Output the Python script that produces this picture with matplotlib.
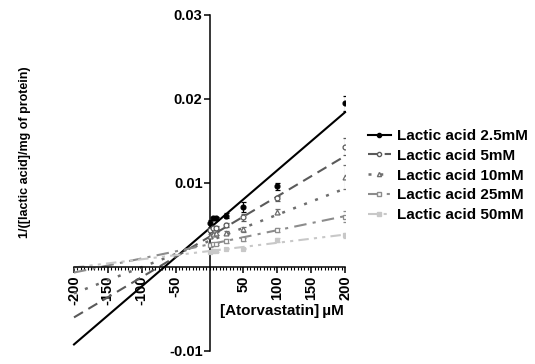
import matplotlib
matplotlib.use('Agg')
import matplotlib.pyplot as plt
import numpy as np
from matplotlib.ticker import MultipleLocator, FixedLocator
from matplotlib.lines import Line2D

plt.rcParams['font.family'] = ['Liberation Sans', 'DejaVu Sans']
plt.rcParams['font.weight'] = 'bold'

# Atorvastatin concentrations (uM)
conc = [0, 5, 10, 25, 50, 100, 200]

labels = ['Lactic acid 2.5mM', 'Lactic acid 5mM', 'Lactic acid 10mM',
          'Lactic acid 25mM', 'Lactic acid 50mM']

# mean 1/v values per lactate level
y_2_5 = [0.0052, 0.0058, 0.0058, 0.0061, 0.0071, 0.0096, 0.0195]
y_5 = [0.0044, 0.0046, 0.0047, 0.0050, 0.0059, 0.0082, 0.0143]
y_10 = [0.0037, 0.0039, 0.0040, 0.0041, 0.0045, 0.0066, 0.0107]
y_25 = [0.0026, 0.0027, 0.0027, 0.0031, 0.0033, 0.0044, 0.0060]
y_50 = [0.0018, 0.0019, 0.0019, 0.0022, 0.0022, 0.0032, 0.0038]

# SEM
e_2_5 = [0.0004, 0.0002, 0.0002, 0.0003, 0.0006, 0.0004, 0.0009]
e_5 = [0.0002, 0.0002, 0.0002, 0.0002, 0.0004, 0.0003, 0.0010]
e_10 = [0.0002, 0.0002, 0.0002, 0.0002, 0.0003, 0.0003, 0.0014]
e_25 = [0.0002, 0.0001, 0.0001, 0.0002, 0.0002, 0.0002, 0.0007]
e_50 = [0.0001, 0.0001, 0.0001, 0.0001, 0.0001, 0.0002, 0.0003]

# Dixon plot linear fits (slope, intercept)
fit_slope = [6.91e-5, 4.8e-5, 3.12e-5, 1.68e-5, 0.98e-5]
fit_intercept = [0.0046, 0.0036, 0.0031, 0.0027, 0.0019]

fit_range = [-200, 200]
xticks = [-200, -150, -100, -50, 50, 100, 150, 200]
yticks = [-0.01, 0.01, 0.02, 0.03]

means = [y_2_5, y_5, y_10, y_25, y_50]
errs = [e_2_5, e_5, e_10, e_25, e_50]

styles = [
    dict(color='black', ls='-', lw=1.5, marker='o', mfc='black', ms=3.5),
    dict(color='#5a5a5a', ls=(0, (5, 3)), lw=1.5, marker='o', mfc='white', ms=3.5),
    dict(color='#6e6e6e', ls=(0, (1.2, 3.5)), lw=1.8, marker='^', mfc='white', ms=3.5),
    dict(color='#8c8c8c', ls=(0, (6, 3, 1.5, 3)), lw=1.5, marker='s', mfc='white', ms=3.5),
    dict(color='#c8c8c8', ls=(0, (5, 2.5, 1.5, 2.5, 1.5, 2.5)), lw=1.5, marker='s', mfc='#c8c8c8', ms=3.5),
]

fig = plt.figure(figsize=(5.35, 3.64), dpi=100)
ax = fig.add_axes([74 / 535, 1 - 351 / 364, 271 / 535, 336 / 364])

xf = np.array(fit_range, dtype=float)
handles = []
for y, e, m, b, st, lab in zip(means, errs, fit_slope, fit_intercept, styles, labels):
    ax.plot(xf, m * xf + b, color=st['color'], ls=st['ls'], lw=st['lw'],
            clip_on=False, zorder=2)
    ax.errorbar(conc, y, yerr=e, fmt=st['marker'], color=st['color'],
                mfc=st['mfc'], mec=st['color'], ms=st['ms'], mew=0.9,
                elinewidth=0.8, capsize=1.8, capthick=0.8, zorder=3)
    handles.append(Line2D([], [], color=st['color'], ls=st['ls'], lw=st['lw'],
                          marker=st['marker'], mfc=st['mfc'], mec=st['color'],
                          ms=st['ms'] - 0.5, label=lab))

ax.set_xlim(-200, 200)
ax.set_ylim(-0.01, 0.03)

# axes cross at the origin
ax.spines['left'].set_position(('data', 0))
ax.spines['bottom'].set_position(('data', 0))
ax.spines['top'].set_visible(False)
ax.spines['right'].set_visible(False)
ax.spines['left'].set_linewidth(1.1)
ax.spines['bottom'].set_linewidth(1.1)

ax.xaxis.set_major_locator(FixedLocator(xticks))
ax.xaxis.set_minor_locator(MultipleLocator(5))
ax.yaxis.set_major_locator(FixedLocator(yticks))
ax.set_xticklabels([str(t) for t in xticks], rotation=90, fontsize=10.5,
                   fontweight='bold')
ax.set_yticklabels(['%g' % t for t in yticks], fontsize=10.5, fontweight='bold')
ax.tick_params(axis='x', which='major', direction='out', length=4, width=1.1, pad=2)
ax.tick_params(axis='x', which='minor', direction='out', length=2, width=0.8)
ax.tick_params(axis='y', which='major', direction='out', length=4, width=1.1, pad=1)
for lbl in ax.get_xticklabels():
    lbl.set_verticalalignment('top')

fig.text(25 / 535, 1 - 152 / 364, '1/([lactic acid]/mg of protein)',
         rotation=90, ha='center', va='center', fontsize=9, fontweight='bold')
fig.text(220 / 535, 1 - 311 / 364, '[Atorvastatin]\u2009\u00b5M',
         ha='left', va='center', fontsize=11, fontweight='bold')

fig.legend(handles=handles, loc='upper left', bbox_to_anchor=(368 / 535, 1 - 129 / 364),
           frameon=False, borderaxespad=0, borderpad=0, handlelength=1.5,
           handletextpad=0.4, labelspacing=0.38, prop=dict(size=11, weight='bold'))

fig.savefig('out.png', dpi=100)
